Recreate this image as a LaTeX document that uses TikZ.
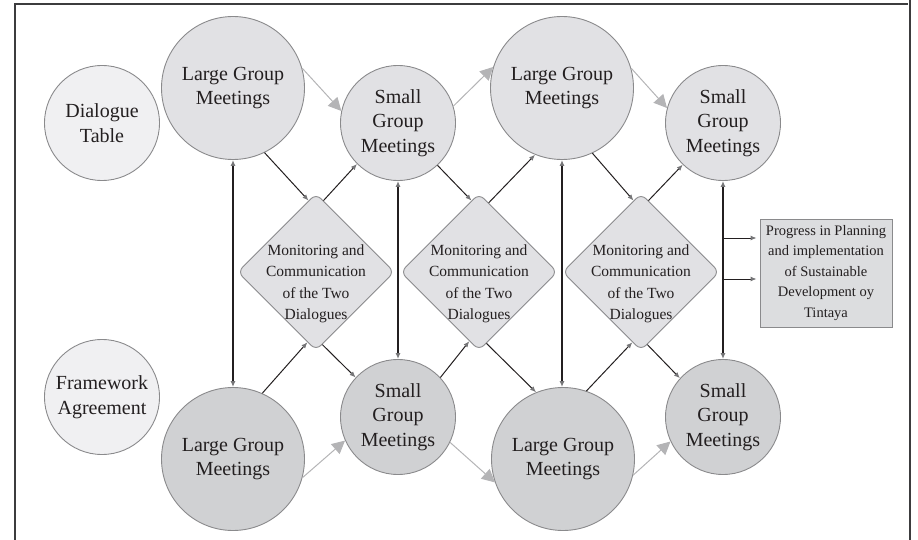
\documentclass[tikz,border=0pt]{standalone}
\usepackage{fontspec}
\setmainfont{Liberation Serif}
\usepackage{tikz}
\usetikzlibrary{arrows.meta,shapes.geometric}
\usepackage{xcolor}
\definecolor{ringgray}{RGB}{138,138,140}
\definecolor{topfill}{RGB}{225,225,228}
\definecolor{lowfill}{RGB}{208,209,211}
\definecolor{palefill}{RGB}{240,240,242}
\definecolor{boxfill}{RGB}{220,221,223}
\definecolor{flowgray}{RGB}{180,180,182}
\definecolor{tipgray}{RGB}{118,118,120}
\definecolor{inkdark}{RGB}{35,31,32}
\definecolor{framedark}{RGB}{60,60,62}

\tikzset{
    meet/.style={circle,draw=ringgray,line width=0.9pt,inner sep=0pt,align=center,text=inkdark,font=\fontsize{20}{24.5}\selectfont},
    bigmeet/.style={meet,minimum size=143pt},
    smallmeet/.style={meet,minimum size=115pt},
    monitor/.style={diamond,draw=ringgray,fill=topfill,line width=0.9pt,rounded corners=7pt,minimum size=157pt,inner sep=0pt},
    monitortext/.style={align=center,text=inkdark,yshift=-12pt,font=\fontsize{15.5}{21.5}\selectfont},
    link/.style={draw=inkdark,line width=1pt,-{Latex[length=6pt,width=5pt,color=tipgray]}},
    tie/.style={draw=inkdark,line width=1.2pt,{Latex[length=6pt,width=5pt,color=tipgray]}-{Latex[length=6pt,width=5pt,color=tipgray]}},
    flow/.style={draw=flowgray,line width=1pt,-{Triangle[length=13pt,width=13pt]}}
}

\begin{document}
\begin{tikzpicture}[x=1pt,y=-1pt]
    \useasboundingbox (0,0) rectangle (918,540);
    % frame
    \draw[line width=2pt,framedark] (14.5,540) -- (14.5,4) -- (908,4);
    \draw[line width=2pt,framedark] (910,0) -- (910,540);

    % the two tables
    \node[smallmeet,fill=palefill] (table) at (102,123) {Dialogue\\Table};
    \node[smallmeet,fill=palefill] (frame) at (102,397) {Framework\\Agreement};

    % dialogue table row (top)
    \node[bigmeet,fill=topfill] (lt1) at (233,88) {Large Group\\Meetings};
    \node[smallmeet,fill=topfill] (st1) at (398,123) {Small\\Group\\Meetings};
    \node[bigmeet,fill=topfill] (lt2) at (562,88) {Large Group\\Meetings};
    \node[smallmeet,fill=topfill] (st2) at (723,123) {Small\\Group\\Meetings};

    % framework agreement row (bottom)
    \node[bigmeet,fill=lowfill] (lb1) at (233,459) {Large Group\\Meetings};
    \node[smallmeet,fill=lowfill] (sb1) at (398,417) {Small\\Group\\Meetings};
    \node[bigmeet,fill=lowfill] (lb2) at (563,459) {Large Group\\Meetings};
    \node[smallmeet,fill=lowfill] (sb2) at (723,417) {Small\\Group\\Meetings};

    % monitoring diamonds
    \foreach \name/\x in {dm1/316,dm2/479,dm3/641}
        \node[monitor,label={[monitortext]center:{Monitoring and\\Communication\\of the Two\\Dialogues}}] (\name) at (\x,272) {};

    \node[draw=ringgray,fill=boxfill,line width=0.9pt,minimum width=132pt,minimum height=108pt,inner sep=0pt,align=center,text=inkdark,font=\fontsize{14.5}{20.5}\selectfont] (prog) at (826,273)
        {Progress in Planning\\and implementation\\of Sustainable\\Development oy\\Tintaya};

    % sequence of meetings
    \draw[flow] (lt1.16) -- (st1.168);
    \draw[flow] (st1.17) -- (lt2.163);
    \draw[flow] (lt2.16) -- (st2.165);
    \draw[flow] (lb1.-15) -- (sb1.-156);
    \draw[flow] (sb1.-26) -- (lb2.-161);
    \draw[flow] (lb2.-13) -- (sb2.-155);

    % in and out of the diamonds
    \draw[link] (lt1.-64) -- (dm1.96);
    \draw[link] (dm1.84) -- (st1.-135);
    \draw[link] (lb1.66) -- (dm1.-97);
    \draw[link] (dm1.-85) -- (sb1.137);

    \draw[link] (st1.-47) -- (dm2.96);
    \draw[link] (dm2.82) -- (lt2.-112);
    \draw[link] (sb1.43) -- (dm2.-98);
    \draw[link] (dm2.-84) -- (lb2.112);

    \draw[link] (lt2.-65) -- (dm3.96);
    \draw[link] (dm3.84) -- (st2.-134);
    \draw[link] (lb2.71) -- (dm3.-97);
    \draw[link] (dm3.-85) -- (sb2.138);

    % between the two rows
    \draw[tie] (lt1.south) -- (lb1.north);
    \draw[tie] (st1.south) -- (sb1.north);
    \draw[tie] (lt2.south) -- (lt2.south |- lb2.north);
    \draw[tie] (st2.south) -- (sb2.north);

    % towards the result
    \coordinate (out1) at (723,238);
    \coordinate (out2) at (723,279);
    \draw[link,shorten >=3pt] (out1) -- (out1 -| prog.west);
    \draw[link,shorten >=3pt] (out2) -- (out2 -| prog.west);
\end{tikzpicture}
\end{document}
